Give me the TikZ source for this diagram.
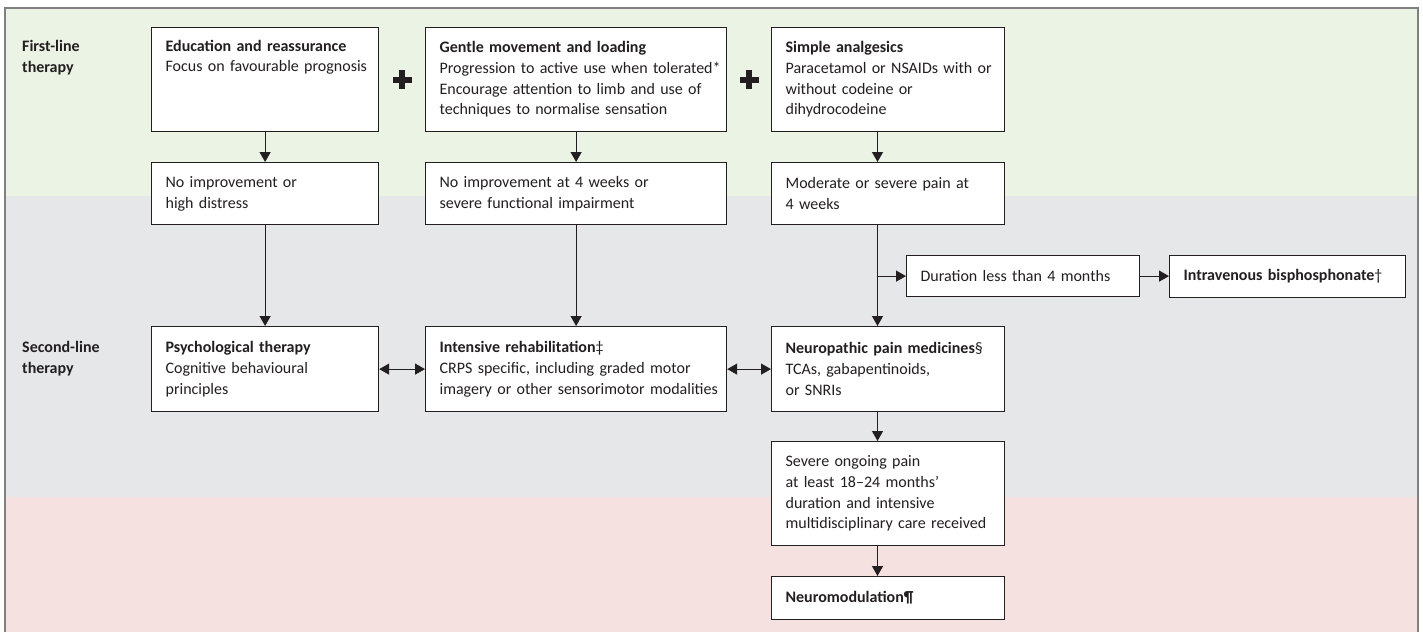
\documentclass[tikz,border=0pt]{standalone}
\usepackage{fontspec}
\setmainfont{Carlito}
\usetikzlibrary{arrows.meta,positioning,calc}
\definecolor{ink}{RGB}{35,31,32}
\definecolor{bandA}{RGB}{234,243,228}
\definecolor{bandB}{RGB}{230,231,233}
\definecolor{bandC}{RGB}{245,225,224}
\definecolor{frame}{RGB}{128,128,128}
\newcommand{\figfont}{\fontsize{16}{20.7}\selectfont}
\tikzset{
  box/.style={draw=ink, line width=1.2pt, fill=white, anchor=north west, align=left,
    inner xsep=2pt, inner ysep=0pt, text=ink, execute at begin node={\leftskip=12pt}},
  lab/.style={anchor=north west, align=left, inner sep=0pt, text=ink, font=\figfont\bfseries},
  link/.style={draw=ink, line width=1.2pt, -{Triangle[length=10pt,width=11pt]}},
  both/.style={draw=ink, line width=1.2pt, {Triangle[length=10pt,width=11pt]}-{Triangle[length=10pt,width=11pt]}},
}
\begin{document}
\begin{tikzpicture}[x=1pt, y=-1pt, font=\figfont]
  \useasboundingbox (0,0) rectangle (1423,632);
  % bands
  \fill[bandA] (5,8) rectangle (1418,196);
  \fill[bandB] (5,196) rectangle (1418,497);
  \fill[bandC] (5,497) rectangle (1418,632);
  \draw[frame, line width=1.3pt] (5,632) -- (5,8) -- (1418,8) -- (1418,632);

  \node[lab] (first) at (22,40.5) {First-line\\therapy};
  \node[lab] (second) at (22,341) {Second-line\\therapy};

  % first line
  \node[box, text width=223pt, minimum height=104pt] (edu) at (151,27)
    {\textbf{Education and reassurance}\\Focus on favourable prognosis\\\strut\\\strut};
  \node[box, text width=297pt, minimum height=104pt] (gentle) at (425,27)
    {\textbf{Gentle movement and loading}\\\mbox{Progression to active use when tolerated*}\\Encourage attention to limb and use of\\techniques to normalise sensation};
  \node[box, text width=229pt, minimum height=104pt] (simple) at (771,27)
    {\textbf{Simple analgesics}\\Paracetamol or NSAIDs with or\\without codeine or\\dihydrocodeine};

  \node[box, text width=223pt, minimum height=62pt] (noimpA) at (151,162) {No improvement or\\high distress};
  \node[box, text width=297pt, minimum height=62pt] (noimpB) at (425,162) {No improvement at 4 weeks or\\severe functional impairment};
  \node[box, text width=229pt, minimum height=62pt] (moderate) at (771,162) {Moderate or severe pain at\\4 weeks};

  \node[box, text width=229pt, minimum height=41pt] (duration) at (906,255) {Duration less than 4 months};
  \node[box, text width=232pt, minimum height=42pt] (bisph) at (1169,255) {\textbf{Intravenous bisphosphonate}†};

  % second line
  \node[box, text width=223pt, minimum height=85pt] (psych) at (151,326)
    {\textbf{Psychological therapy}\\Cognitive behavioural\\principles};
  \node[box, text width=297pt, minimum height=85pt] (intensive) at (425,326)
    {\textbf{Intensive rehabilitation}‡\\CRPS specific, including graded motor\\\mbox{imagery or other sensorimotor modalities}};
  \node[box, text width=229pt, minimum height=85pt] (neuro) at (771,326)
    {\textbf{Neuropathic pain medicines}§\\TCAs, gabapentinoids,\\or SNRIs};
  \node[box, text width=229pt, minimum height=104pt] (severe) at (771,441)
    {Severe ongoing pain\\at least 18–24 months’\\duration and intensive\\multidisciplinary care received};
  \node[box, text width=229pt, minimum height=43pt] (neuromod) at (771,576) {\textbf{Neuromodulation¶}};

  % plus signs
  \foreach \a/\b in {edu/gentle, gentle/simple}{
    \coordinate (p) at ($(\a.east)!0.5!(\b.west)$);
    \fill[ink] ($(p)+(-9.5,-3)$) rectangle ($(p)+(9.5,3)$);
    \fill[ink] ($(p)+(-3,-9.5)$) rectangle ($(p)+(3,9.5)$);
  }

  % connectors
  \coordinate (spine) at (877.5,0);
  \draw[link] (edu.south) -- (noimpA.north);
  \draw[link] (gentle.south) -- (noimpB.north);
  \draw[link] (simple.south -| spine) -- (moderate.north -| spine);
  \draw[link] (noimpA.south) -- (psych.north);
  \draw[link] (noimpB.south) -- (intensive.north);
  \draw[link] (moderate.south -| spine) -- (neuro.north -| spine);
  \draw[link] (spine |- duration.west) -- (duration.west);
  \draw[link] (duration.east) -- (bisph.west |- duration.east);
  \draw[both] (psych.east) -- (intensive.west);
  \draw[both] (intensive.east) -- (neuro.west);
  \draw[link] (neuro.south -| spine) -- (severe.north -| spine);
  \draw[link] (severe.south -| spine) -- (neuromod.north -| spine);
\end{tikzpicture}
\end{document}
